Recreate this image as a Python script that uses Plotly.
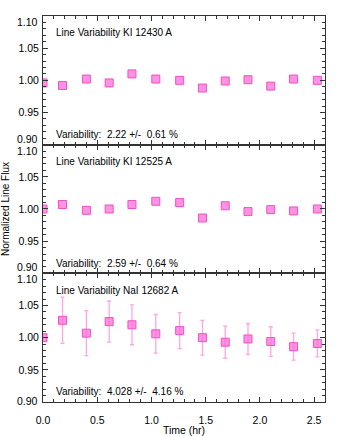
import plotly.graph_objects as go
from plotly.subplots import make_subplots

# time of each spectrum (hr)
time_hr = [0.0, 0.18, 0.40, 0.61, 0.82, 1.04, 1.26, 1.47, 1.68, 1.89, 2.10, 2.31, 2.53]

flux_ki_12430 = [0.996, 0.992, 1.002, 0.996, 1.010, 1.002, 1.000, 0.988, 0.999, 1.001, 0.991, 1.002, 1.000]
flux_ki_12525 = [1.000, 1.007, 0.998, 1.000, 1.007, 1.012, 1.010, 0.986, 1.005, 0.996, 0.999, 0.997, 1.000]
flux_nai_12682 = [1.000, 1.027, 1.007, 1.025, 1.020, 1.006, 1.011, 1.000, 0.993, 0.998, 0.994, 0.986, 0.991]
err_nai_12682 = [0.0, 0.036, 0.035, 0.032, 0.031, 0.030, 0.028, 0.027, 0.025, 0.024, 0.023, 0.021, 0.021]

panel_titles = ["Line Variability KI 12430 A", "Line Variability KI 12525 A", "Line Variability NaI 12682 A"]
panel_stats = ["Variability:  2.22 +/-  0.61 %", "Variability:  2.59 +/-  0.64 %", "Variability:  4.028 +/-  4.16 %"]

y_ticks = [0.90, 0.95, 1.00, 1.05, 1.10]
y_ticklabels = ["0.90", "0.95", "1.00", "1.05", "1.10"]
x_ticks = [0.0, 0.5, 1.0, 1.5, 2.0, 2.5]
x_ticklabels = ["0.0", "0.5", "1.0", "1.5", "2.0", "2.5"]

FONT = "Liberation Sans, Arial, sans-serif"
TICKFONT = dict(size=10.5, color="black", family=FONT)
MARKER = dict(symbol="square", size=8, color="rgba(255,110,215,0.75)",
              line=dict(color="#f050c8", width=1))

fig = make_subplots(rows=3, cols=1, shared_xaxes=True, vertical_spacing=0)

series = [flux_ki_12430, flux_ki_12525, flux_nai_12682]
for i, flux in enumerate(series):
    err = err_nai_12682 if i == 2 else None
    fig.add_trace(
        go.Scatter(
            x=time_hr,
            y=flux,
            mode="markers",
            marker=MARKER,
            error_y=dict(type="data", array=err, color="#ffa6e3", thickness=1.3, width=2,
                         visible=err is not None),
            showlegend=False,
        ),
        row=i + 1, col=1,
    )

for i in range(3):
    # edge labels (0.90 / 1.10) are drawn as annotations so the stacked panels don't collide
    ticktext = ["", *y_ticklabels[1:-1], ""]
    fig.update_yaxes(
        range=[0.9, 1.1], tickvals=y_ticks, ticktext=ticktext, automargin=False,
        ticks="inside", ticklen=5, tickcolor="#333", mirror="allticks",
        showline=True, linecolor="#333", linewidth=1, showgrid=False, zeroline=False,
        minor=dict(dtick=0.01, ticks="inside", ticklen=3, tickcolor="#333"),
        tickfont=TICKFONT, ticklabelstandoff=1,
        row=i + 1, col=1,
    )
    fig.update_xaxes(
        range=[0, 2.6], tickvals=x_ticks, ticktext=x_ticklabels, automargin=False,
        ticks="inside", ticklen=5, tickcolor="#333", mirror="allticks",
        showline=True, linecolor="#333", linewidth=1, showgrid=False, zeroline=False,
        minor=dict(dtick=0.1, ticks="inside", ticklen=3, tickcolor="#333"),
        tickfont=TICKFONT,
        row=i + 1, col=1,
    )
    yname = "y" if i == 0 else f"y{i + 1}"
    xref = "x domain" if i == 0 else f"x{i + 1} domain"
    fig.add_annotation(text=y_ticklabels[-1], xref="paper", yref=yname, x=0, y=y_ticks[-1],
                       xanchor="right", yanchor="middle", xshift=-3, yshift=-6,
                       showarrow=False, font=TICKFONT)
    fig.add_annotation(text=y_ticklabels[0], xref="paper", yref=yname, x=0, y=y_ticks[0],
                       xanchor="right", yanchor="middle", xshift=-3, yshift=6 if i < 2 else 1,
                       showarrow=False, font=TICKFONT)
    fig.add_annotation(text=panel_titles[i], xref=xref, yref=yname + " domain", x=0.039, y=0.87,
                       xanchor="left", yanchor="middle", showarrow=False,
                       font=dict(size=10, color="black", family=FONT))
    fig.add_annotation(text=panel_stats[i], xref=xref, yref=yname + " domain", x=0.039, y=0.078,
                       xanchor="left", yanchor="middle", showarrow=False,
                       font=dict(size=10, color="black", family=FONT))

fig.update_xaxes(ticklabelstandoff=8, title=dict(text="Time (hr)", standoff=2,
                 font=dict(size=10.5, color="black", family=FONT)), row=3, col=1)

fig.add_annotation(text="Normalized Line Flux", xref="paper", yref="paper", x=-0.135, y=0.5,
                   textangle=-90, showarrow=False, xanchor="center", yanchor="middle",
                   font=dict(size=10, color="black", family=FONT))

fig.update_layout(
    width=341, height=436,
    margin=dict(l=43, r=16, t=16, b=34),
    paper_bgcolor="white", plot_bgcolor="white",
    font=dict(family=FONT, color="black"),
)

# the page's default body margin would push the figure 8px right/down
fig.write_html("out.html", config={"displayModeBar": False},
               post_script="document.body.style.margin='0';")
